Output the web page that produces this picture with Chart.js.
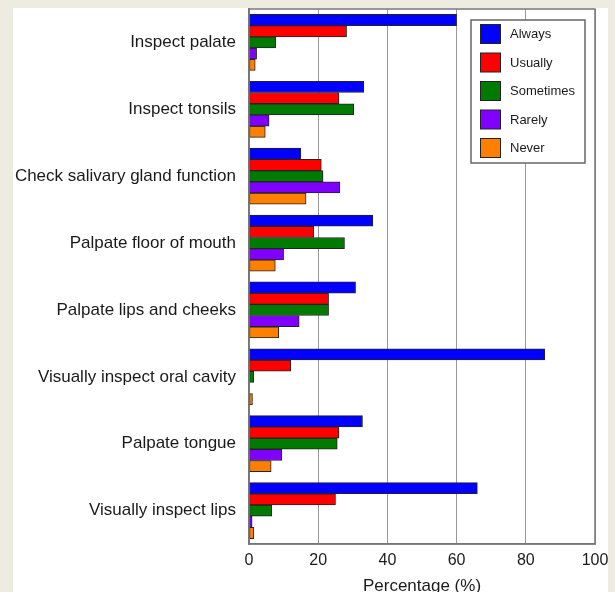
<!DOCTYPE html>
<html>
<head>
<meta charset="utf-8">
<script src="https://cdn.jsdelivr.net/npm/chart.js@4.4.1/dist/chart.umd.min.js"></script>
<style>
  html, body { margin:0; padding:0; width:615px; height:592px; overflow:hidden; background:#EEEBE1; }
  #panel { position:absolute; left:13px; top:8px; width:595px; height:600px; background:#ffffff; }
  #wrap { position:absolute; left:0; top:0; width:615px; height:600px; }
</style>
</head>
<body>
<div id="panel"></div>
<div id="wrap"><canvas id="c" width="615" height="600"></canvas></div>
<script>
const categories = [
  "Inspect palate",
  "Inspect tonsils",
  "Check salivary gland function",
  "Palpate floor of mouth",
  "Palpate lips and cheeks",
  "Visually inspect oral cavity",
  "Palpate tongue",
  "Visually inspect lips"
];
const seriesNames = ["Always", "Usually", "Sometimes", "Rarely", "Never"];
const always    = [60.0, 33.2, 15.0, 35.8, 30.8, 85.5, 32.8, 66.0];
const usually   = [28.2, 26.0, 20.9, 18.7, 23.0, 12.1, 26.0, 25.0];
const sometimes = [7.7, 30.3, 21.4, 27.6, 23.0, 1.4, 25.5, 6.6];
const rarely    = [2.2, 5.8, 26.2, 10.0, 14.5, 0, 9.5, 0.9];
const never     = [1.8, 4.7, 16.5, 7.6, 8.6, 1.0, 6.4, 1.4];
const xTicks = [0, 20, 40, 60, 80, 100];
const xTitle = "Percentage (%)";

const colors = ["#0000FF", "#FF0000", "#007A00", "#8000FF", "#FF8000"];
const values = [always, usually, sometimes, rarely, never];
const FONT = "'Liberation Sans', Arial, Helvetica, sans-serif";

const frameAndLegend = {
  id: 'frameAndLegend',
  afterDraw(chart) {
    const ctx = chart.ctx;
    const a = chart.chartArea;
    ctx.save();
    ctx.strokeStyle = '#777';
    ctx.lineWidth = 1.5;
    ctx.strokeRect(a.left, a.top, a.right - a.left, a.bottom - a.top);
    // legend
    const bx = 471, by = 20, bw = 114, bh = 143;
    ctx.fillStyle = '#fff';
    ctx.fillRect(bx, by, bw, bh);
    ctx.strokeStyle = '#666';
    ctx.lineWidth = 1.5;
    ctx.strokeRect(bx, by, bw, bh);
    ctx.font = "13px " + FONT;
    ctx.textBaseline = 'middle';
    ctx.textAlign = 'left';
    chart.data.datasets.forEach((ds, i) => {
      const cy = 34 + i * 28.5;
      ctx.fillStyle = ds.backgroundColor;
      ctx.fillRect(480, cy - 9.5, 20, 19);
      ctx.strokeStyle = '#222';
      ctx.lineWidth = 1;
      ctx.strokeRect(480.5, cy - 9.5, 20, 19);
      ctx.fillStyle = '#1a1a1a';
      ctx.fillText(ds.label, 510, cy + 0.5);
    });
    ctx.restore();
  }
};

new Chart(document.getElementById('c'), {
  type: 'bar',
  data: {
    labels: categories,
    datasets: seriesNames.map((n, i) => ({
      label: n,
      data: values[i],
      backgroundColor: colors[i],
      borderColor: '#222',
      borderWidth: 1,
      barThickness: 11.2,
      borderSkipped: false
    }))
  },
  options: {
    indexAxis: 'y',
    responsive: false,
    animation: false,
    layout: { padding: { top: 9, right: 20, left: 0, bottom: 0 } },
    plugins: { legend: { display: false }, tooltip: { enabled: false } },
    scales: {
      x: {
        min: 0, max: 100,
        afterBuildTicks(scale) { scale.ticks = xTicks.map(v => ({ value: v })); },
        afterFit(scale) { scale.height = 56; scale.paddingLeft = 0; scale.paddingRight = 0; },
        grid: { color: '#999', lineWidth: 1, drawTicks: false },
        border: { display: true, color: '#777', width: 1.5 },
        ticks: { color: '#1a1a1a', font: { family: FONT, size: 16 }, padding: 7, maxRotation: 0 },
        title: { display: true, text: xTitle, color: '#1a1a1a', font: { family: FONT, size: 17 }, padding: { top: 0, bottom: 3 } }
      },
      y: {
        afterFit(scale) { scale.width = 249; scale.paddingTop = 0; scale.paddingBottom = 0; },
        grid: { display: false, drawTicks: false },
        border: { display: true, color: '#777', width: 1.5 },
        ticks: { color: '#1a1a1a', font: { family: FONT, size: 17 }, padding: 13, autoSkip: false }
      }
    }
  },
  plugins: [frameAndLegend]
});
</script>
</body>
</html>
